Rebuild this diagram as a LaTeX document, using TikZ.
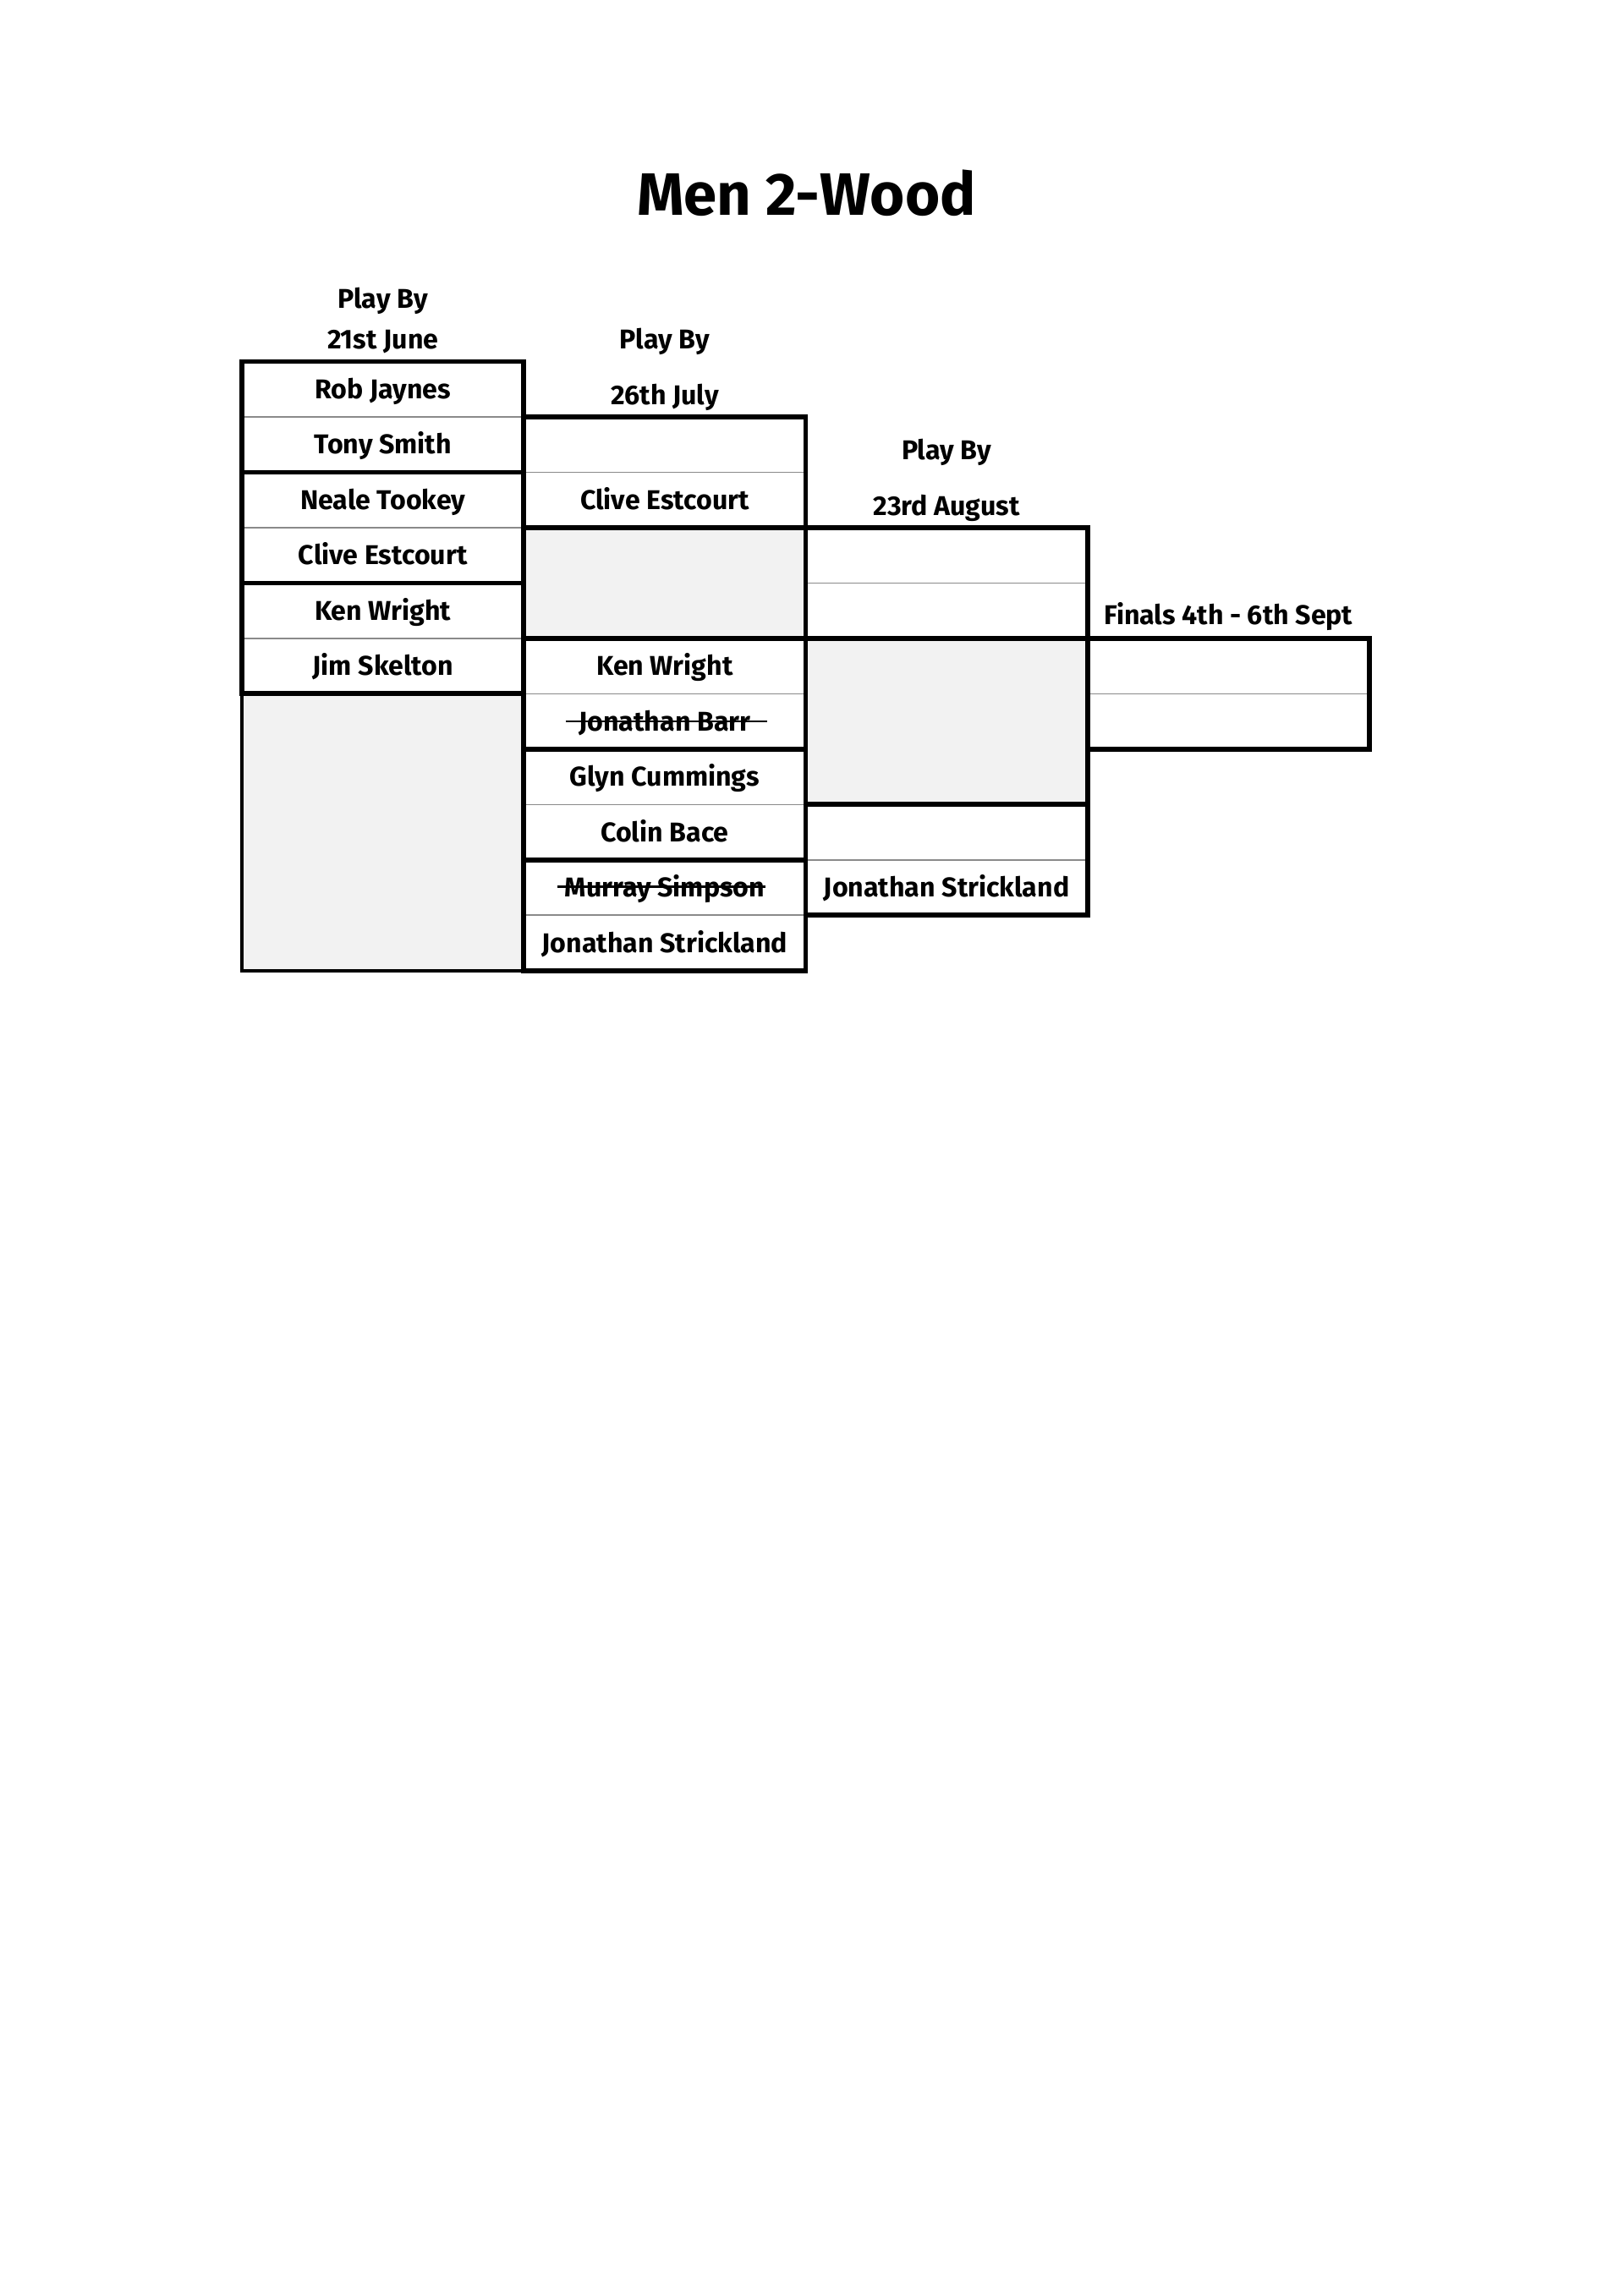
\documentclass[tikz,border=0pt]{standalone}
\usepackage{fontspec}
\setmainfont{Fira Sans}
\usepackage{tikz}
\usetikzlibrary{positioning}

\definecolor{shade}{HTML}{F2F2F2}
\definecolor{rulegray}{HTML}{8A8A8A}

\begin{document}
\begin{tikzpicture}[
    cell/.style={rectangle,draw=rulegray,line width=0.5pt,minimum width=3.645cm,minimum height=0.7162cm,
        inner sep=0pt,outer sep=0pt,text height=7pt,text depth=0pt,font=\bfseries\fontsize{10}{12}\selectfont},
    blank/.style={cell,fill=shade},
    head/.style={text height=7pt,text depth=0pt,font=\bfseries\fontsize{10}{12}\selectfont},
    player/.style={inner sep=0pt,text height=7pt,text depth=0pt,font=\bfseries\fontsize{10}{12}\selectfont},
    pair/.style={draw,line width=1.8pt},
    strike/.style={line width=0.8pt},
    node distance=0pt
]
    \useasboundingbox (0,0) rectangle (21,-29.7);

    % Title
    \node[font=\bfseries\fontsize{22}{26}\selectfont] (title) at (10.43,-2.5) {Men 2-Wood};

    % Round 1
    \node[cell] (a1) at (4.952,-5.035) {Rob Jaynes};
    \node[cell,below=of a1] (a2) {Tony Smith};
    \node[cell,below=of a2] (a3) {Neale Tookey};
    \node[cell,below=of a3] (a4) {Clive Estcourt};
    \node[cell,below=of a4] (a5) {Ken Wright};
    \node[cell,below=of a5] (a6) {Jim Skelton};
    \node[blank,minimum height=3.581cm,below=of a6] (a7) {};

    % Round 2
    \node[cell,anchor=north west] (b1) at (a2.north east) {};
    \node[cell,below=of b1] (b2) {Clive Estcourt};
    \node[blank,minimum height=1.4324cm,below=of b2] (b3) {};
    \node[cell,below=of b3] (b4) {Ken Wright};
    \node[cell,below=of b4] (b5) {};
    \node[cell,below=of b5] (b6) {Glyn Cummings};
    \node[cell,below=of b6] (b7) {Colin Bace};
    \node[cell,below=of b7] (b8) {};
    \node[cell,below=of b8] (b9) {Jonathan Strickland};
    \node[player] (barr) at (b5) {Jonathan Barr};
    \node[player] (murray) at (b8) {Murray Simpson};

    % Round 3
    \node[cell,anchor=north west] (c1) at (b3.north east) {};
    \node[cell,below=of c1] (c2) {};
    \node[blank,minimum height=2.1486cm,below=of c2] (c3) {};
    \node[cell,below=of c3] (c4) {};
    \node[cell,below=of c4] (c5) {Jonathan Strickland};

    % Final
    \node[cell,anchor=north west] (d1) at (c3.north east) {};
    \node[cell,below=of d1] (d2) {};

    % Headings
    \node[head] (h1b) at ([yshift=0.284cm]a1.north) {21st June};
    \node[head] (h1a) at ([yshift=0.53cm]h1b) {Play By};
    \node[head] (h2b) at ([yshift=0.284cm]b1.north) {26th July};
    \node[head] (h2a) at ([yshift=0.72cm]h2b) {Play By};
    \node[head] (h3b) at ([yshift=0.284cm]c1.north) {23rd August};
    \node[head] (h3a) at ([yshift=0.72cm]h3b) {Play By};
    \node[head] (h4) at ([yshift=0.30cm]d1.north) {Finals 4th - 6th Sept};

    % Struck-out names
    \draw[strike] ([shift={(-4.6pt,3.6pt)}]barr.base west) -- ([shift={(6pt,3.6pt)}]barr.base east);
    \draw[strike] ([shift={(-2.5pt,3.9pt)}]murray.base west) -- ([shift={(0pt,3.9pt)}]murray.base east);

    % Match borders
    \draw[line width=1.2pt] (a7.north west) rectangle (a7.south east);
    \draw[pair] (a1.north west) rectangle (a2.south east);
    \draw[pair] (a3.north west) rectangle (a4.south east);
    \draw[pair] (a5.north west) rectangle (a6.south east);
    \draw[pair] (b1.north west) rectangle (b2.south east);
    \draw[pair] (b3.north west) rectangle (b3.south east);
    \draw[pair] (b4.north west) rectangle (b5.south east);
    \draw[pair] (b6.north west) rectangle (b7.south east);
    \draw[pair] (b8.north west) rectangle (b9.south east);
    \draw[pair] (c1.north west) rectangle (c2.south east);
    \draw[pair] (c3.north west) rectangle (c3.south east);
    \draw[pair] (c4.north west) rectangle (c5.south east);
    \draw[pair] (d1.north west) rectangle (d2.south east);
\end{tikzpicture}
\end{document}
